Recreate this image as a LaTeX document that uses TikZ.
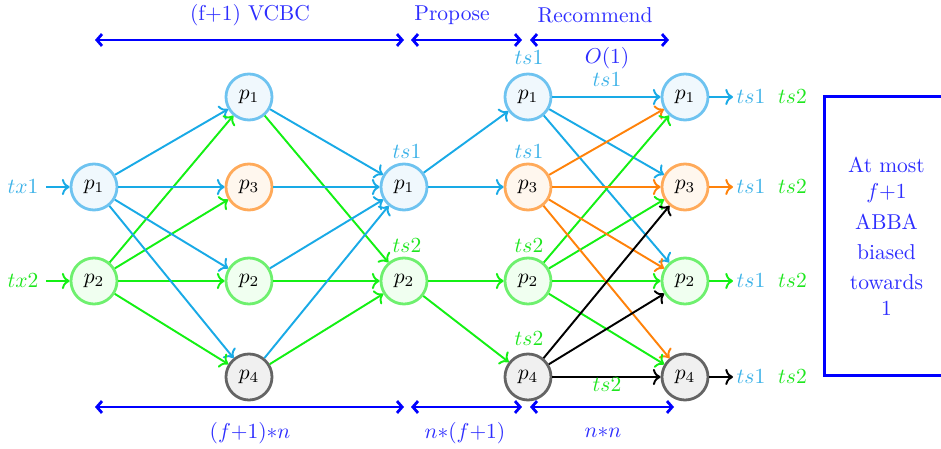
\documentclass[tikz,border=0pt]{standalone}
\usetikzlibrary{arrows.meta}
\definecolor{cb}{RGB}{25,170,230}
\definecolor{cbt}{RGB}{60,178,232}
\definecolor{cbn}{RGB}{110,195,240}
\definecolor{cbf}{RGB}{240,248,253}
\definecolor{co}{RGB}{255,130,10}
\definecolor{con}{RGB}{255,170,90}
\definecolor{cof}{RGB}{255,247,238}
\definecolor{cg}{RGB}{20,240,20}
\definecolor{cgt}{RGB}{30,230,30}
\definecolor{cgn}{RGB}{110,240,110}
\definecolor{cgf}{RGB}{240,255,240}
\definecolor{ckn}{RGB}{100,100,100}
\definecolor{ckf}{RGB}{240,240,240}
\definecolor{cd}{RGB}{0,0,255}
\definecolor{cdt}{RGB}{45,45,255}
\begin{document}
\begin{tikzpicture}[x=0.465pt,y=-0.465pt,
  pn/.style={circle, minimum size=21.4pt, inner sep=0pt, line width=1.3pt},
  bn/.style={pn, draw=cbn, fill=cbf},
  on/.style={pn, draw=con, fill=cof},
  gn/.style={pn, draw=cgn, fill=cgf},
  kn/.style={pn, draw=ckn, fill=ckf},
  ar/.style={->, line width=0.9pt},
  dim/.style={{Straight Barb[length=2.4pt,width=5.5pt]}-{Straight Barb[length=2.4pt,width=5.5pt]}, line width=1.3pt, draw=cd},
  dt/.style={text=cdt},
  bt/.style={text=cbt},
  gt/.style={text=cgt},
  outt/.style={anchor=west, inner xsep=1.5pt, inner ysep=0pt}]
\useasboundingbox (0,0) rectangle (941,449);

% nodes
\node[bn] (a1) at (94,187) {$p_1$};
\node[gn] (a2) at (94,281) {$p_2$};
\node[bn] (b1) at (249,97) {$p_1$};
\node[on] (b3) at (249,187) {$p_3$};
\node[gn] (b2) at (249,281) {$p_2$};
\node[kn] (b4) at (249,377) {$p_4$};
\node[bn] (c1) at (404,187) {$p_1$};
\node[gn] (c2) at (404,281) {$p_2$};
\node[bn] (d1) at (528,97) {$p_1$};
\node[on] (d3) at (528,187) {$p_3$};
\node[gn] (d2) at (528,281) {$p_2$};
\node[kn] (d4) at (528,377) {$p_4$};
\node[bn] (e1) at (685,97) {$p_1$};
\node[on] (e3) at (685,187) {$p_3$};
\node[gn] (e2) at (685,281) {$p_2$};
\node[kn] (e4) at (685,377) {$p_4$};

% inputs
\node[bt] (tx1) at (23,187) {$tx1$};
\node[gt] (tx2) at (23,281) {$tx2$};
\draw[ar,cb] (tx1) -- (a1);
\draw[ar,cg] (tx2) -- (a2);

% stage A -> B
\foreach \t in {b1,b3,b2,b4} {
  \draw[ar,cb] (a1) -- (\t);
  \draw[ar,cg] (a2) -- (\t);
}
% stage B -> C
\draw[ar,cb] (b1) -- (c1);
\draw[ar,cg] (b1) -- (c2);
\draw[ar,cb] (b3) -- (c1);
\draw[ar,cb] (b2) -- (c1);
\draw[ar,cg] (b2) -- (c2);
\draw[ar,cb] (b4) -- (c1);
\draw[ar,cg] (b4) -- (c2);
% stage C -> D
\draw[ar,cb] (c1) -- (d1);
\draw[ar,cb] (c1) -- (d3);
\draw[ar,cg] (c2) -- (d2);
\draw[ar,cg] (c2) -- (d4);
% stage D -> E
\draw[ar,cb] (d1) -- (e1);
\draw[ar,cb] (d1) -- (e3);
\draw[ar,cb] (d1) -- (e2);
\foreach \t in {e1,e3,e2,e4} {
  \draw[ar,co] (d3) -- (\t);
  \draw[ar,cg] (d2) -- (\t);
}
\draw[ar,black] (d4) -- (e3);
\draw[ar,black] (d4) -- (e2);
\draw[ar,black] (d4) -- (e4);

% outputs
\node[outt] (o1) at (733,97) {\color{cbt}$ts1$\hspace{6pt}\color{cgt}$ts2$};
\node[outt] (o3) at (733,187) {\color{cbt}$ts1$\hspace{6pt}\color{cgt}$ts2$};
\node[outt] (o2) at (733,281) {\color{cbt}$ts1$\hspace{6pt}\color{cgt}$ts2$};
\node[outt] (o4) at (733,377) {\color{cbt}$ts1$\hspace{6pt}\color{cgt}$ts2$};
\draw[ar,cb] (e1) -- (o1);
\draw[ar,co] (e3) -- (o3);
\draw[ar,cg] (e2) -- (o2);
\draw[ar,black] (e4) -- (o4);

% labels
\node[bt] (lc1) at (407,152) {$ts1$};
\node[gt] (lc2) at (407,246) {$ts2$};
\node[bt] (ld1) at (529,58) {$ts1$};
\node[bt] (ld3) at (529,152) {$ts1$};
\node[gt] (ld2) at (529,246) {$ts2$};
\node[gt] (ld4) at (529,339) {$ts2$};
\node[bt] (le1) at (607,80) {$ts1$};
\node[gt] (le4) at (607,385) {$ts2$};
\node[dt] (o1lab) at (607,58) {$O(1)$};

% dimension arrows
\coordinate (t0) at (95,40);  \coordinate (t1) at (404,40);
\coordinate (t2) at (411,40); \coordinate (t3) at (522,40);
\coordinate (t4) at (530,40); \coordinate (t5) at (669,40);
\coordinate (u0) at (95,407);  \coordinate (u1) at (404,407);
\coordinate (u2) at (411,407); \coordinate (u3) at (522,407);
\coordinate (u4) at (530,407); \coordinate (u5) at (674,407);
\draw[dim] (t0) -- (t1);
\draw[dim] (t2) -- (t3);
\draw[dim] (t4) -- (t5);
\draw[dim] (u0) -- (u1);
\draw[dim] (u2) -- (u3);
\draw[dim] (u4) -- (u5);
\node[dt] (h1) at (250,15) {(f+1) VCBC};
\node[dt] (h2) at (452,15) {Propose};
\node[dt] (h3) at (595,15) {Recommend};
\node[dt] (f1) at (250,433) {$(f{+}1){\ast}n$};
\node[dt] (f2) at (465,433) {$n{\ast}(f{+}1)$};
\node[dt] (f3) at (603,433) {$n{\ast}n$};

% box
\node[draw=cd, line width=1.4pt, minimum width=58pt, minimum height=130pt,
  align=center, text=cdt] (box) at (886.5,236)
  {At most\\ $f$+1\\[2.4pt] ABBA\\[2pt] biased\\[2pt] towards\\ 1};
\end{tikzpicture}
\end{document}
